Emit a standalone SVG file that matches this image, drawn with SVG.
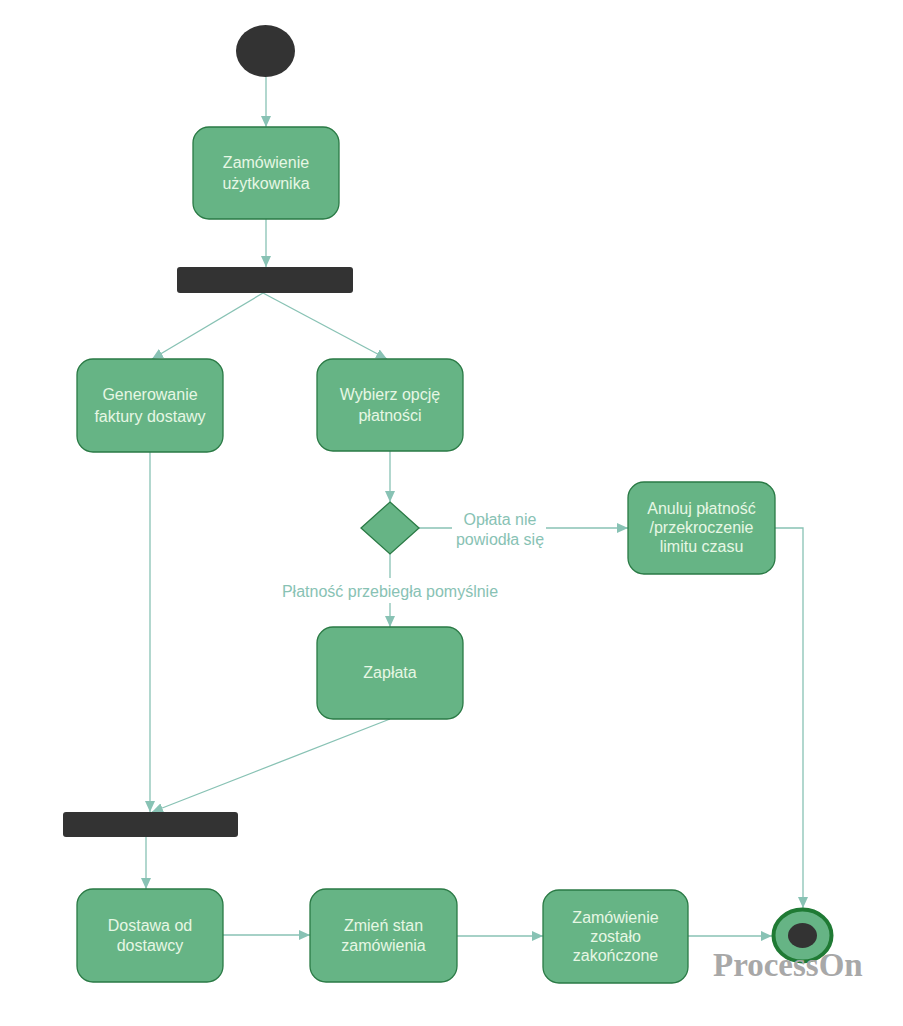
<svg xmlns="http://www.w3.org/2000/svg" width="903" height="1026" viewBox="0 0 903 1026">
<style>
.act{fill:#66b485;stroke:#2a7a45;stroke-width:1.3}
.bar{fill:#333333}
.t{font-family:"Liberation Sans",Arial,sans-serif;font-size:16px;fill:#e6f7e4;text-anchor:middle}
.lbl{font-family:"Liberation Sans",Arial,sans-serif;font-size:16px;fill:#88c2b4;text-anchor:middle}
.c{fill:none;stroke:#88c2b4;stroke-width:1.3}
.wm{font-family:"Liberation Serif","Times New Roman",serif;font-size:33px;font-weight:bold;fill:#a8a8a8}
</style>
<defs>
<marker id="ah" markerUnits="userSpaceOnUse" markerWidth="12" markerHeight="10" refX="11" refY="5" orient="auto">
<path d="M0,0 L11,5 L0,10 Z" fill="#88c2b4"/>
</marker>
</defs>
<rect width="903" height="1026" fill="#ffffff"/>
<g id="connectors">
<path class="c" d="M266,77 L266,127" marker-end="url(#ah)"/>
<path class="c" d="M266,219 L266,267" marker-end="url(#ah)"/>
<path class="c" d="M263,293 L152,359" marker-end="url(#ah)"/>
<path class="c" d="M263,293 L387,359" marker-end="url(#ah)"/>
<path class="c" d="M390,451 L390,502" marker-end="url(#ah)"/>
<path class="c" d="M419,528 L452,528"/>
<path class="c" d="M546,528 L628,528" marker-end="url(#ah)"/>
<path class="c" d="M390,554 L390,578"/>
<path class="c" d="M390,603 L390,627" marker-end="url(#ah)"/>
<path class="c" d="M150,452 L150,812" marker-end="url(#ah)"/>
<path class="c" d="M390,719 L152,812" marker-end="url(#ah)"/>
<path class="c" d="M146,837 L146,889" marker-end="url(#ah)"/>
<path class="c" d="M223,935 L310,935" marker-end="url(#ah)"/>
<path class="c" d="M457,936 L543,936" marker-end="url(#ah)"/>
<path class="c" d="M688,936 L772,936" marker-end="url(#ah)"/>
<path class="c" d="M775,528 L803,528 L803,908" marker-end="url(#ah)"/>
<text class="lbl" x="500" y="525">Opłata nie</text>
<text class="lbl" x="500" y="545">powiodła się</text>
<text class="lbl" x="390" y="597">Płatność przebiegła pomyślnie</text>
</g>
<g id="start"><ellipse cx="265.5" cy="51" rx="29.5" ry="26" fill="#333333"/></g>
<g id="n-zamowienie">
<rect class="act" x="193" y="127" width="146" height="92" rx="16"/>
<text class="t" x="266" y="168">Zamówienie</text>
<text class="t" x="266" y="189">użytkownika</text>
</g>
<g id="fork1"><rect class="bar" x="177" y="267" width="176" height="26" rx="3"/></g>
<g id="n-generowanie">
<rect class="act" x="77" y="359" width="146" height="93" rx="16"/>
<text class="t" x="150" y="400">Generowanie</text>
<text class="t" x="150" y="421.5">faktury dostawy</text>
</g>
<g id="n-wybierz">
<rect class="act" x="317" y="359" width="146" height="92" rx="16"/>
<text class="t" x="390" y="399.5">Wybierz opcję</text>
<text class="t" x="390" y="421">płatności</text>
</g>
<g id="decision"><path class="act" d="M390,502 L419,528 L390,554 L361,528 Z"/></g>
<g id="n-anuluj">
<rect class="act" x="628" y="482" width="147" height="92" rx="16"/>
<text class="t" x="701.5" y="514">Anuluj płatność</text>
<text class="t" x="701.5" y="533">/przekroczenie</text>
<text class="t" x="701.5" y="552">limitu czasu</text>
</g>
<g id="n-zaplata">
<rect class="act" x="317" y="627" width="146" height="92" rx="16"/>
<text class="t" x="390" y="678">Zapłata</text>
</g>
<g id="join"><rect class="bar" x="63" y="812" width="175" height="25" rx="3"/></g>
<g id="n-dostawa">
<rect class="act" x="77" y="889" width="146" height="93" rx="16"/>
<text class="t" x="150" y="930.5">Dostawa od</text>
<text class="t" x="150" y="951">dostawcy</text>
</g>
<g id="n-zmien">
<rect class="act" x="310" y="889" width="147" height="93" rx="16"/>
<text class="t" x="383.5" y="930.5">Zmień stan</text>
<text class="t" x="383.5" y="951">zamówienia</text>
</g>
<g id="n-zakonczone">
<rect class="act" x="543" y="890" width="145" height="93" rx="16"/>
<text class="t" x="615.5" y="922.5">Zamówienie</text>
<text class="t" x="615.5" y="941.5">zostało</text>
<text class="t" x="615.5" y="960.5">zakończone</text>
</g>
<g id="end">
<ellipse cx="802.5" cy="935.5" rx="29" ry="26" fill="#66b485" stroke="#1f7a34" stroke-width="4"/>
<ellipse cx="802.5" cy="935.5" rx="14.5" ry="12.5" fill="#333333"/>
</g>
<g id="logo"><text class="wm" x="713" y="976">ProcessOn</text></g>
</svg>
